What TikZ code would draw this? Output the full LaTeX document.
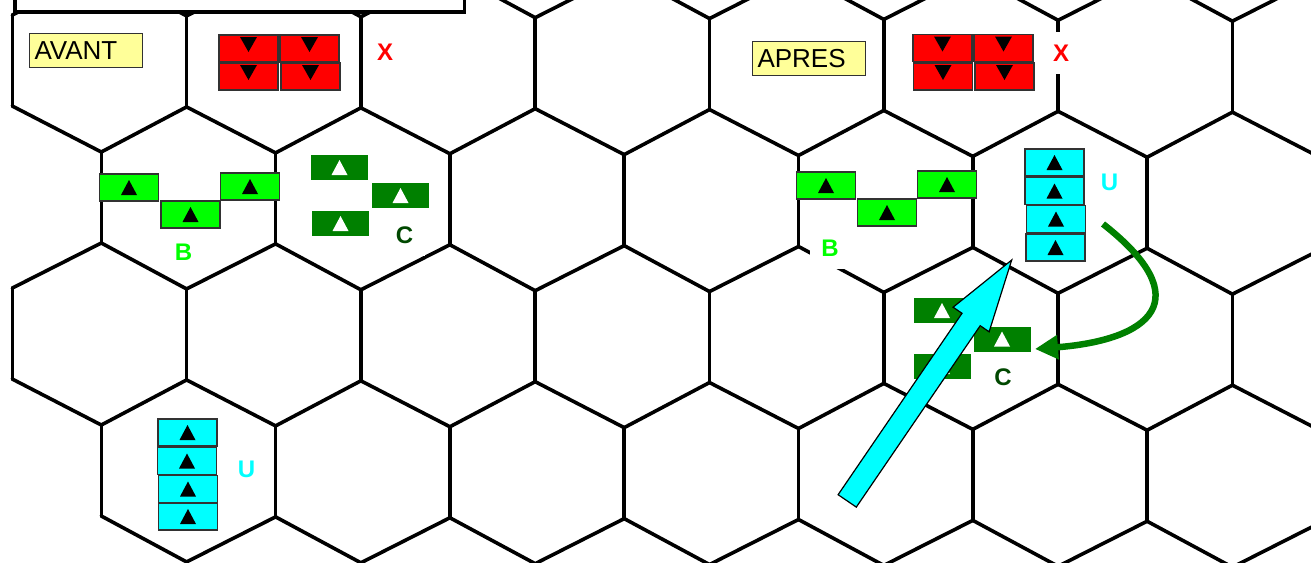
\documentclass[tikz,border=0pt]{standalone}
\usepackage{fontspec}
\setmainfont{Liberation Sans}
\usetikzlibrary{arrows.meta}
\definecolor{cyanU}{RGB}{0,255,255}
\definecolor{redX}{RGB}{255,0,0}
\definecolor{limeB}{RGB}{0,255,0}
\definecolor{darkC}{RGB}{0,128,0}
\definecolor{labC}{RGB}{0,72,0}
\definecolor{paleY}{RGB}{255,255,153}
\definecolor{edgeG}{RGB}{50,50,50}
\begin{document}
\begin{tikzpicture}[x=1pt,y=-1pt,
  hexline/.style={line width=3.6pt, line join=round, line cap=round},
  tri up/.style={path picture={\fill[#1] ([shift={(-8pt,-7.5pt)}]path picture bounding box.center) -- ++(16pt,0pt) -- ++(-8pt,15pt) -- cycle;}},
  tri down/.style={path picture={\fill[black] ([shift={(-8.5pt,11.5pt)}]path picture bounding box.center) -- ++(17pt,0pt) -- ++(-8.5pt,-15pt) -- cycle;}},
  unitbase/.style={line width=1.1pt, minimum width=59pt, minimum height=27pt, inner sep=0pt, outer sep=0pt},
  redunit/.style={unitbase, draw=edgeG, fill=redX, tri down},
  limeunit/.style={unitbase, draw=edgeG, fill=limeB, tri up=black},
  cyanunit/.style={unitbase, draw=edgeG, fill=cyanU, tri up=black},
  darkunit/.style={unitbase, draw=none, fill=darkC, minimum width=57pt, minimum height=25pt, tri up=white},
  lab/.style={font=\bfseries\fontsize{24}{24}\selectfont, fill=white, minimum width=40pt, minimum height=42pt, inner sep=0pt},
  namebox/.style={draw=edgeG, line width=1pt, fill=paleY, text width=103pt, inner xsep=5pt, inner ysep=0pt, minimum height=34pt, align=left, font=\fontsize{26}{26}\selectfont},
]
\useasboundingbox (0,0) rectangle (1311,562);
\clip (0,0) rectangle (1311,562);
\fill[white] (0,0) rectangle (1311,562);

% ---- hex grid ----
\def\hsh{0.005}
\foreach \r/\cy in {0/60.5,1/197,2/333.5,3/470}{
  \pgfmathsetmacro\hoff{mod(\r,2)==0 ? 12.3 : 101.3}
  \foreach \k in {0,...,7}{
    \pgfmathsetmacro\hxx{\hoff+174.3*\k}
    \draw[hexline] (\hxx,{\cy-45.5+\hsh*\hxx}) -- (\hxx,{\cy+45.5+\hsh*\hxx});
  }
}
\foreach \k in {0,...,7}{
  \pgfmathsetmacro\hxE{12.3+174.3*\k}
  \pgfmathsetmacro\hxO{101.3+174.3*\k}
  \pgfmathsetmacro\hxEn{12.3+174.3*(\k+1)}
  \pgfmathsetmacro\hxOn{101.3+174.3*(\k+1)}
  \draw[hexline] (\hxE,{15+\hsh*\hxE}) -- (\hxO,{-30.5+\hsh*\hxO}) -- (\hxEn,{15+\hsh*\hxEn});
  \draw[hexline] (\hxE,{106+\hsh*\hxE}) -- (\hxO,{151.5+\hsh*\hxO}) -- (\hxEn,{106+\hsh*\hxEn});
  \draw[hexline] (\hxE,{288+\hsh*\hxE}) -- (\hxO,{242.5+\hsh*\hxO}) -- (\hxEn,{288+\hsh*\hxEn});
  \draw[hexline] (\hxE,{379+\hsh*\hxE}) -- (\hxO,{424.5+\hsh*\hxO}) -- (\hxEn,{379+\hsh*\hxEn});
  \draw[hexline] (\hxO,{515.5+\hsh*\hxO}) -- (\hxEn,{561+\hsh*\hxEn}) -- (\hxOn,{515.5+\hsh*\hxOn});
}

% ---- top box ----
\draw[line width=3.6pt, fill=white] (15,-10) rectangle (464.5,12);

% ---- labels ----
\node[lab, text=redX] (lx1) at (385,52.5) {X};
\node[lab, text=redX] (lx2) at (1061,53) {X};
\node[lab, text=limeB] (lb1) at (183.5,252) {B};
\node[lab, text=limeB] (lb2) at (830,248) {B};
\node[lab, text=labC] (lc1) at (404.5,235) {C};
\node[lab, text=labC] (lc2) at (1003,377) {C};
\node[lab, text=cyanU] (lu1) at (246.5,469.5) {U};
\node[lab, text=cyanU] (lu2) at (1109.5,182.5) {U};

\node[namebox, anchor=north west] (avant) at (29,33) {AVANT};
\node[namebox, anchor=north west] (apres) at (752,41) {APRES};

% ---- counters: AVANT ----
\node[redunit] (ra1) at (248.5,48.5) {};
\node[redunit] (ra2) at (309.5,48.5) {};
\node[redunit] (ra3) at (248.5,76.5) {};
\node[redunit] (ra4) at (310.5,76.5) {};
\node[limeunit] (ba1) at (129,187.5) {};
\node[limeunit] (ba2) at (190.5,214.5) {};
\node[limeunit] (ba3) at (250,186.5) {};
\node[darkunit] (ca1) at (339.5,167.5) {};
\node[darkunit] (ca2) at (400.5,195.5) {};
\node[darkunit] (ca3) at (340.5,223.5) {};
\node[cyanunit] (ua1) at (187.5,432.5) {};
\node[cyanunit] (ua2) at (187,461) {};
\node[cyanunit] (ua3) at (188,489) {};
\node[cyanunit] (ua4) at (188,516.5) {};

% ---- counters: APRES ----
\node[redunit] (rb1) at (942.5,48) {};
\node[redunit] (rb2) at (1003.5,48) {};
\node[redunit] (rb3) at (943,76.5) {};
\node[redunit] (rb4) at (1004.5,76.5) {};
\node[limeunit] (bb1) at (826,185.5) {};
\node[limeunit] (bb2) at (887,212.5) {};
\node[limeunit] (bb3) at (947,184.5) {};
\node[darkunit] (cb1) at (942,310.5) {};
\node[darkunit] (cb2) at (1002,339) {};
\node[darkunit] (cb3) at (942,366.5) {};
\node[cyanunit] (ub1) at (1054.5,162.5) {};
\node[cyanunit] (ub2) at (1054.5,191) {};
\node[cyanunit] (ub3) at (1056,219) {};
\node[cyanunit] (ub4) at (1055.5,247.5) {};

% ---- green curved arrow ----
\coordinate (gs) at (1103,224);
\coordinate (ge) at (1035,349);
\draw[darkC, line width=6.5pt, -{Triangle[length=23pt,width=23pt]}] (gs) .. controls (1200,300) and (1150,340) .. (ge);

% ---- big cyan arrow ----
\draw[line width=1.2pt, fill=cyanU, line join=miter]
  (838.1,494.7) -- (962.0,313.3) -- (953.1,307.2) -- (1011.7,260)
  -- (989.1,331.8) -- (980.2,325.7) -- (856.3,507.1) -- cycle;
\end{tikzpicture}
\end{document}
